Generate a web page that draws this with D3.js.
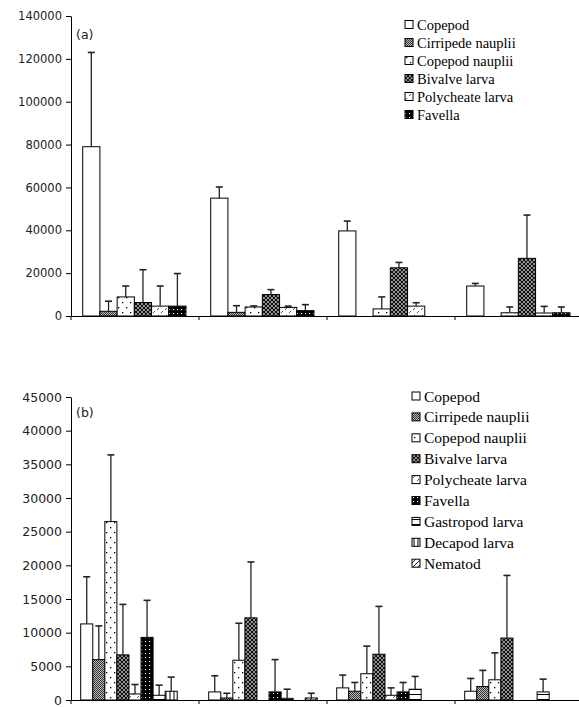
<!DOCTYPE html>
<html><head><meta charset="utf-8">
<script src="https://cdn.jsdelivr.net/npm/d3@7"></script>
<style>body{margin:0;background:#fff}</style>
</head><body>
<svg id="chart" width="579" height="707"></svg>
<script>
// ---- data ----
const groups = ["1", "2", "3", "4"];
const seriesA = ["Copepod", "Cirripede nauplii", "Copepod nauplii", "Bivalve larva", "Polycheate larva", "Favella"];
const seriesB = ["Copepod", "Cirripede nauplii", "Copepod nauplii", "Bivalve larva", "Polycheate larva", "Favella", "Gastropod larva", "Decapod larva", "Nematod"];
const ticksA = [0, 20000, 40000, 60000, 80000, 100000, 120000, 140000];
const ticksB = [0, 5000, 10000, 15000, 20000, 25000, 30000, 35000, 40000, 45000];

// panel (a): means and SD per series, one value per group
const copepodA      = [79000, 55000, 39700, 14000];
const copepodA_sd   = [44000, 5200, 4600, 1200];
const cirripedeA    = [2200, 1700, 0, 0];
const cirripedeA_sd = [4700, 3100, 0, 0];
const copNaupA      = [8900, 4200, 3300, 1500];
const copNaupA_sd   = [5100, 500, 5600, 2700];
const bivalveA      = [6300, 10000, 22500, 26900];
const bivalveA_sd   = [15300, 2300, 2500, 20200];
const polyA         = [4600, 4000, 4600, 1400];
const polyA_sd      = [9400, 600, 1600, 3100];
const favellaA      = [4600, 2500, 0, 1500];
const favellaA_sd   = [15200, 2800, 0, 2700];

// panel (b)
const copepodB      = [11300, 1200, 1800, 1300];
const copepodB_sd   = [7000, 2400, 1900, 1900];
const cirripedeB    = [6000, 300, 1300, 2000];
const cirripedeB_sd = [5000, 700, 1300, 2400];
const copNaupB      = [26500, 5900, 3900, 3000];
const copNaupB_sd   = [9900, 5500, 4100, 4000];
const bivalveB      = [6700, 12200, 6800, 9200];
const bivalveB_sd   = [7500, 8300, 7100, 9300];
const polyB         = [900, 0, 700, 0];
const polyB_sd      = [1400, 0, 1100, 0];
const favellaB      = [9300, 1200, 1200, 0];
const favellaB_sd   = [5500, 4800, 1400, 0];
const gastroB       = [700, 250, 1600, 1200];
const gastroB_sd    = [1500, 1350, 1900, 1900];
const decapodB      = [1300, 0, 0, 0];
const decapodB_sd   = [2100, 0, 0, 0];
const nematodB      = [0, 300, 0, 0];
const nematodB_sd   = [0, 700, 0, 0];

const meansA = [copepodA, cirripedeA, copNaupA, bivalveA, polyA, favellaA];
const sdsA = [copepodA_sd, cirripedeA_sd, copNaupA_sd, bivalveA_sd, polyA_sd, favellaA_sd];
const meansB = [copepodB, cirripedeB, copNaupB, bivalveB, polyB, favellaB, gastroB, decapodB, nematodB];
const sdsB = [copepodB_sd, cirripedeB_sd, copNaupB_sd, bivalveB_sd, polyB_sd, favellaB_sd, gastroB_sd, decapodB_sd, nematodB_sd];

// ---- patterns ----
const svg = d3.select("#chart");
const defs = svg.append("defs");
function pat(id, w, h, bg, draw) {
  const p = defs.append("pattern").attr("id", id).attr("patternUnits", "userSpaceOnUse")
    .attr("width", w).attr("height", h);
  p.append("rect").attr("width", w).attr("height", h).attr("fill", bg);
  if (draw) draw(p);
}
pat("pCop", 4, 4, "#fff");
pat("pCir", 2, 2, "#bbb", p => {
  p.append("rect").attr("x", 0).attr("y", 0).attr("width", 1).attr("height", 1).attr("fill", "#333");
  p.append("rect").attr("x", 1).attr("y", 1).attr("width", 1).attr("height", 1).attr("fill", "#333");
});
pat("pCopN", 8, 10, "#fff", p => {
  p.append("rect").attr("x", 2).attr("y", 2).attr("width", 1.3).attr("height", 1.3).attr("fill", "#000");
  p.append("rect").attr("x", 6).attr("y", 7).attr("width", 1.3).attr("height", 1.3).attr("fill", "#000");
});
pat("pBiv", 4, 4, "#fff", p => {
  p.append("path").attr("d", "M0,0L4,4M4,0L0,4M-1,3L1,5M3,-1L5,1M-1,1L1,-1M3,5L5,3")
    .attr("stroke", "#111").attr("stroke-width", 1.4);
});
pat("pPoly", 8, 7, "#fff", p => {
  p.append("path").attr("d", "M1,5L3,3M5,2L7,0").attr("stroke", "#555").attr("stroke-width", 1);
});
pat("pFav", 4, 4, "#000", p => {
  p.append("rect").attr("x", 1).attr("y", 1).attr("width", 1.1).attr("height", 1.1).attr("fill", "#fff");
});
pat("pGas", 6, 5, "#fff", p => {
  p.append("line").attr("x1", 0).attr("x2", 6).attr("y1", 4.5).attr("y2", 4.5).attr("stroke", "#000").attr("stroke-width", 1);
});
pat("pDec", 4, 4, "#fff", p => {
  p.append("line").attr("x1", 2).attr("x2", 2).attr("y1", 0).attr("y2", 4).attr("stroke", "#000").attr("stroke-width", 1);
});
pat("pNem", 5, 5, "#fff", p => {
  p.append("path").attr("d", "M0,5L5,0M-1,1L1,-1M4,6L6,4").attr("stroke", "#000").attr("stroke-width", 0.9);
});
const fillsB = ["pCop", "pCir", "pCopN", "pBiv", "pPoly", "pFav", "pGas", "pDec", "pNem"];

// ---- panel drawing ----
function panel(cfg) {
  const g = svg.append("g");
  const y = d3.scaleLinear().domain([0, cfg.max]).range([cfg.y0, cfg.y1]);
  const x = d3.scaleBand().domain(groups).range([71, 583]).paddingInner(0).paddingOuter(0);
  const xs = d3.scaleBand().domain(cfg.series).range([cfg.inL, x.bandwidth() - cfg.inR]).padding(0);

  // y axis
  const ya = g.append("g").attr("transform", "translate(71,0)")
    .call(d3.axisLeft(y).tickValues(cfg.ticks).tickFormat(d3.format("d")).tickSize(5).tickSizeOuter(0));
  ya.select(".domain").attr("stroke", "#000");
  ya.selectAll(".tick line").attr("stroke", "#000");
  ya.selectAll("text").attr("font-family", "DejaVu Sans, Verdana, sans-serif")
    .attr("font-size", cfg.tickFont).attr("fill", "#222").attr("x", -9);
  g.append("line").attr("x1", 71).attr("x2", 71).attr("y1", cfg.y0).attr("y2", cfg.y0 + 4).attr("stroke", "#000");

  // x axis
  const xa = g.append("g").attr("transform", `translate(0,${cfg.y0})`)
    .call(d3.axisBottom(x).tickValues(groups.slice(1)).tickSize(4).tickSizeOuter(0).tickFormat(""));
  xa.selectAll(".tick").attr("transform", d => `translate(${x(d)},0)`);
  xa.select(".domain").attr("stroke", "#000");
  xa.selectAll(".tick line").attr("stroke", "#000");

  // bars
  cfg.series.forEach((s, si) => {
    const rows = groups.map((gk, gi) => ({ g: gk, v: cfg.means[si][gi], sd: cfg.sds[si][gi] }));
    const bars = g.append("g");
    bars.selectAll("rect").data(rows.filter(r => r.v > 0)).join("rect")
      .attr("x", r => x(r.g) + xs(s))
      .attr("y", r => y(r.v))
      .attr("width", xs.bandwidth())
      .attr("height", r => y(0) - y(r.v))
      .attr("fill", `url(#${fillsB[si]})`)
      .attr("stroke", "#000").attr("stroke-width", 1);
    const eb = rows.filter(r => r.sd > 0);
    const cx = r => x(r.g) + xs(s) + xs.bandwidth() / 2;
    bars.selectAll("line.e").data(eb).join("line").attr("class", "e")
      .attr("x1", cx).attr("x2", cx)
      .attr("y1", r => y(r.v)).attr("y2", r => y(r.v + r.sd))
      .attr("stroke", "#222").attr("stroke-width", 1.3);
    bars.selectAll("line.c").data(eb).join("line").attr("class", "c")
      .attr("x1", r => cx(r) - 3.5).attr("x2", r => cx(r) + 3.5)
      .attr("y1", r => y(r.v + r.sd)).attr("y2", r => y(r.v + r.sd))
      .attr("stroke", "#222").attr("stroke-width", 1.6);
  });

  // panel label
  g.append("text").attr("x", 76).attr("y", cfg.labY).text(cfg.label)
    .attr("font-family", "DejaVu Sans, Verdana, sans-serif").attr("font-size", 12.5).attr("fill", "#222");

  // legend
  const lg = g.append("g");
  cfg.series.forEach((s, si) => {
    const cy = cfg.legY + si * cfg.legStep;
    lg.append("rect").attr("x", cfg.legX).attr("y", cy - 4).attr("width", 8).attr("height", 8)
      .attr("fill", `url(#${fillsB[si]})`).attr("stroke", "#000").attr("stroke-width", 1);
    lg.append("text").attr("x", cfg.legX + 12).attr("y", cy).attr("dy", "0.36em").text(s)
      .attr("font-family", "'Liberation Serif', 'Times New Roman', serif")
      .attr("font-size", cfg.legFont).attr("fill", "#000");
  });
}

panel({ max: 140000, y0: 316, y1: 16, ticks: ticksA, series: seriesA, means: meansA, sds: sdsA,
  inL: 11.7, inR: 13, tickFont: 11.5, label: "(a)", labY: 39,
  legX: 405, legY: 24.5, legStep: 18, legFont: 14.5 });
panel({ max: 45000, y0: 700, y1: 397, ticks: ticksB, series: seriesB, means: meansB, sds: sdsB,
  inL: 9.7, inR: 9.7, tickFont: 12.5, label: "(b)", labY: 417,
  legX: 412, legY: 396, legStep: 20.9, legFont: 15.5 });
</script>
</body></html>
